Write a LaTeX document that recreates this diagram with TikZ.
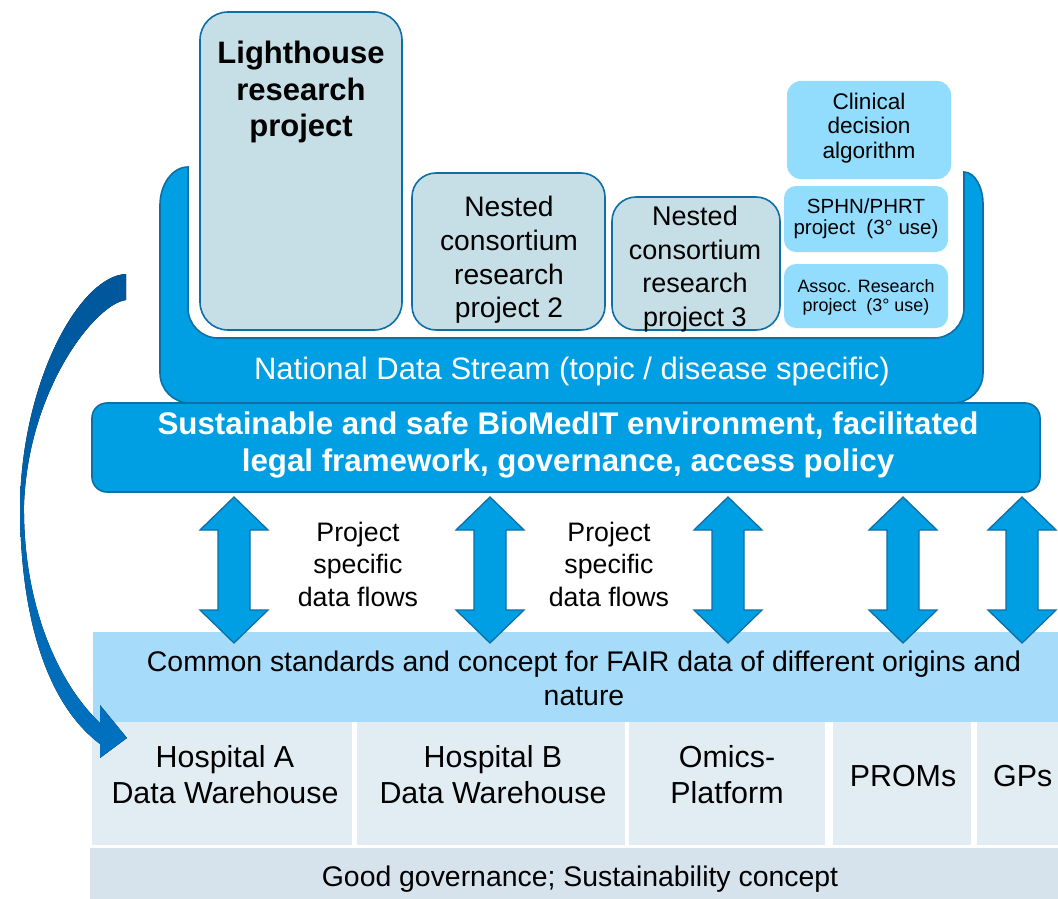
\documentclass[tikz,border=0pt]{standalone}
\usepackage{fontspec}
\setmainfont{Liberation Sans}
\definecolor{mblue}{HTML}{009FE3}
\definecolor{dblue}{HTML}{0D6FA6}
\definecolor{greybox}{HTML}{C6DEE6}
\definecolor{cyanbox}{HTML}{92DCFD}
\definecolor{bandc}{HTML}{A6DBFA}
\definecolor{cellc}{HTML}{E2EDF3}
\definecolor{govc}{HTML}{D7E3EC}
\definecolor{carrowA}{HTML}{00569A}
\definecolor{carrowB}{HTML}{0072C1}
\tikzset{
  box/.style={rectangle, inner sep=0pt, outer sep=0pt},
  projbox/.style={box, fill=greybox, draw=dblue, line width=1.6pt, rounded corners=28pt},
  lightbox/.style={box, fill=cyanbox, draw=none, rounded corners=14pt},
  bluebar/.style={box, fill=mblue, draw=dblue, line width=1.6pt, rounded corners=15pt},
  ushape/.style={fill=mblue, draw=dblue, line width=1.6pt},
  cellbox/.style={box, fill=cellc, draw=none},
  bandbox/.style={box, fill=bandc, draw=none},
  govbox/.style={box, fill=govc, draw=none},
  lbl/.style={inner sep=0pt, align=center, text=black},
  wlbl/.style={lbl, text=white},
  flow/.style={fill=mblue, draw=dblue, line width=1.3pt, line join=miter},
  curvearrow/.style={top color=carrowA, bottom color=carrowB, draw=none},
}
\newcommand{\dflow}[1]{%
  \draw[flow] (#1,497) -- (#1+34,530) -- (#1+16,530) -- (#1+16,610) -- (#1+34,610)
    -- (#1,643) -- (#1-34,610) -- (#1-16,610) -- (#1-16,530) -- (#1-34,530) -- cycle;}
\begin{document}
\begin{tikzpicture}[x=1pt,y=-1pt]
\useasboundingbox (0,0) rectangle (1058,899);
\clip (0,0) rectangle (1058,899);

% National data stream U shape
\draw[ushape] (188,167) -- (188,308) .. controls (188,324.6) and (201.4,338) .. (218,338)
  -- (934,338) .. controls (950.6,338) and (964,324.6) .. (964,308)
  -- (964,172) .. controls (975,172) and (983,188) .. (983,203)
  -- (983,373) .. controls (983,389.6) and (969.6,403) .. (953,403)
  -- (190,403) .. controls (173.4,403) and (160,389.6) .. (160,373)
  -- (160,205) .. controls (160,185) and (172,167) .. (188,167) -- cycle;
\node[wlbl, font=\fontsize{31}{36}\selectfont] (nds) at (572,371) {National Data Stream (topic / disease specific)};

% project boxes
\node[projbox, minimum width=202pt, minimum height=318pt] (lh) at (301,171) {};
\node[lbl, font=\fontsize{31}{36.5}\selectfont\bfseries] (lhtxt) at (301,92) {Lighthouse\\research\\project};
\node[projbox, rounded corners=24pt, minimum width=193pt, minimum height=157pt] (n2) at (508.5,251.5) {};
\node[lbl, font=\fontsize{28.2}{33.7}\selectfont] (n2txt) at (509,260) {Nested\\consortium\\research\\project 2};
\node[projbox, rounded corners=24pt, minimum width=168pt, minimum height=133pt] (n3) at (696,263.5) {};
\node[lbl, font=\fontsize{27}{33.5}\selectfont] (n3txt) at (695,269) {Nested\\consortium\\research\\project 3};

\node[lightbox, minimum width=164pt, minimum height=98pt] (cda) at (869,130) {};
\node[lbl, font=\fontsize{22.6}{24.5}\selectfont] (cdatxt) at (869,128) {Clinical\\decision\\algorithm};
\node[lightbox, rounded corners=12pt, minimum width=164pt, minimum height=66pt] (sphn) at (866,219) {};
\node[lbl, font=\fontsize{20.5}{21}\selectfont] (sphntxt) at (866,219) {SPHN/PHRT\\project~~(3° use)};
\node[lightbox, rounded corners=12pt, minimum width=164pt, minimum height=64pt] (assoc) at (866,296) {};
\node[lbl, font=\fontsize{17.9}{19}\selectfont] (assoctxt) at (866,297) {Assoc. Research\\project~~(3° use)};

% BioMedIT bar
\node[bluebar, minimum width=948pt, minimum height=89pt] (bio) at (566,447.5) {};
\node[wlbl, font=\fontsize{31.3}{37}\selectfont\bfseries] (biotxt) at (568,444.5) {Sustainable and safe BioMedIT environment, facilitated\\legal framework, governance, access policy};

% common standards band
\node[bandbox, minimum width=975pt, minimum height=90pt] (band) at (580.5,677) {};
\node[lbl, font=\fontsize{28.4}{34}\selectfont] (bandtxt) at (584,678.5) {Common standards and concept for FAIR data of different origins and\\nature};

% data source cells
\node[cellbox, minimum width=260pt, minimum height=123pt] (hA) at (222,783.5) {};
\node[cellbox, minimum width=268pt, minimum height=123pt] (hB) at (491,783.5) {};
\node[cellbox, minimum width=196pt, minimum height=123pt] (om) at (727,783.5) {};
\node[cellbox, minimum width=138pt, minimum height=123pt] (pr) at (902,783.5) {};
\node[cellbox, minimum width=93pt, minimum height=123pt] (gp) at (1023.5,783.5) {};
\node[lbl, font=\fontsize{30.4}{36}\selectfont] (hAtxt) at (225,775) {Hospital A\\Data Warehouse};
\node[lbl, font=\fontsize{30.4}{36}\selectfont] (hBtxt) at (493,775) {Hospital B\\Data Warehouse};
\node[lbl, font=\fontsize{30.4}{36}\selectfont] (omtxt) at (727,775) {Omics-\\Platform};
\node[lbl, font=\fontsize{30.4}{36}\selectfont] (prtxt) at (903,776) {PROMs};
\node[lbl, font=\fontsize{30.4}{36}\selectfont, anchor=west] (gptxt) at (993,776) {GPs};

% governance bar
\node[govbox, minimum width=980pt, minimum height=56pt] (gov) at (580,876) {};
\node[lbl, font=\fontsize{28.4}{34}\selectfont] (govtxt) at (580,879) {Good governance; Sustainability concept};

% data flow arrows
\dflow{234}
\dflow{490}
\dflow{728}
\dflow{903}
\dflow{1022}
\node[lbl, font=\fontsize{26.7}{32.5}\selectfont] (pf1) at (358,564) {Project\\specific\\data flows};
\node[lbl, font=\fontsize{26.7}{32.5}\selectfont] (pf2) at (609,564) {Project\\specific\\data flows};

% curved arrow
\fill[curvearrow] (126,274) -- (126,300) .. controls (95,304) and (28,390) .. (24,505)
  .. controls (23,600) and (55,680) .. (100,723) -- (100,705) -- (127,738) -- (100,758)
  -- (100,744) .. controls (48,705) and (20,620) .. (20,505)
  .. controls (22,380) and (80,276) .. (126,274) -- cycle;
\end{tikzpicture}
\end{document}
